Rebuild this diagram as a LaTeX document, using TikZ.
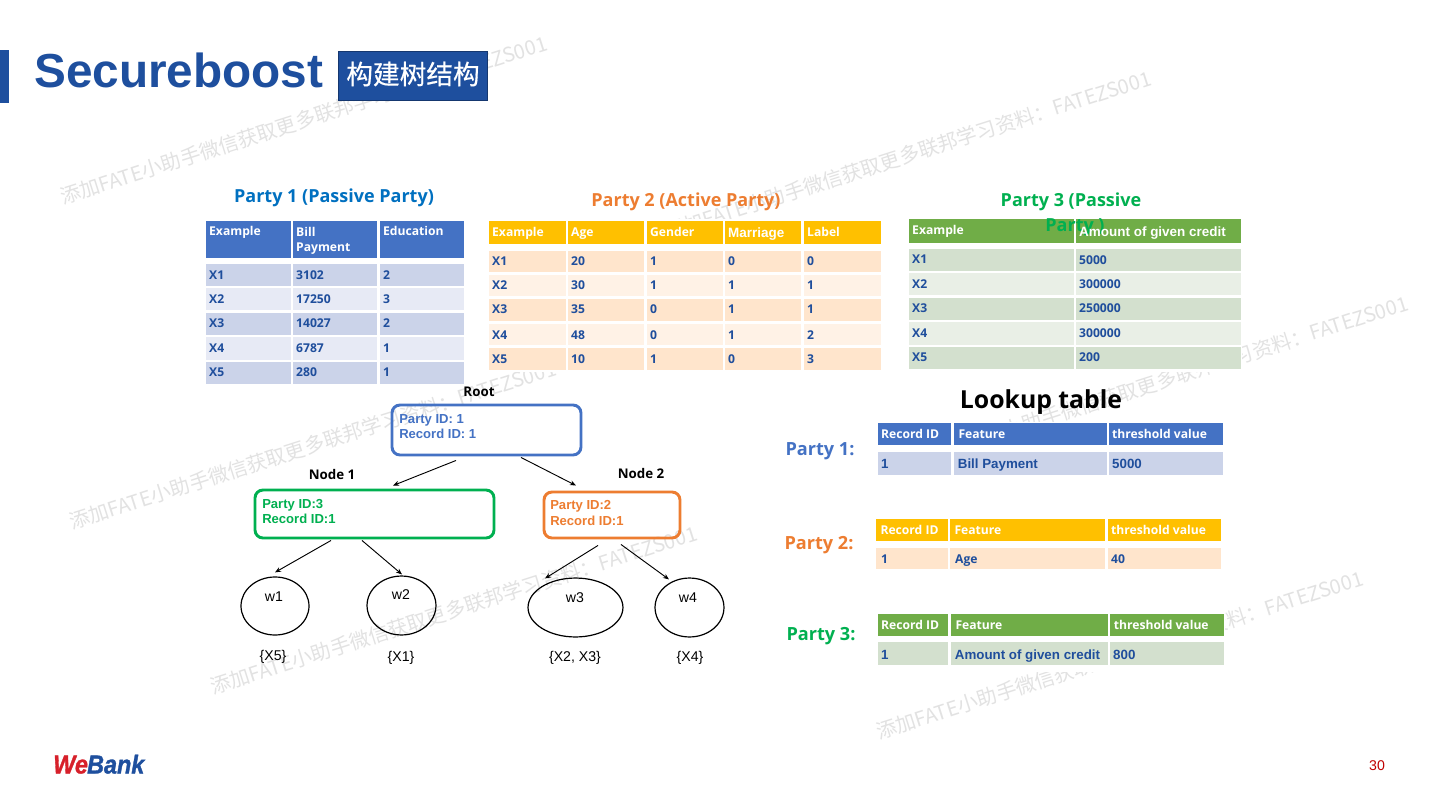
\documentclass[tikz,border=0pt]{standalone}
\usepackage{fontspec}
\usetikzlibrary{arrows.meta,fit,shapes.geometric}
\setmainfont{Liberation Sans}
\newfontfamily\tah{Open Sans}
\newfontfamily\cjk{Noto Sans CJK SC}
\newfontfamily\cjkm[FakeBold=0.5]{Noto Sans CJK SC}
\newfontfamily\logof[BoldItalicFeatures={FakeBold=1.2,FakeStretch=0.9}]{Liberation Sans}
\definecolor{titleblue}{HTML}{1E4F9E}
\definecolor{cellblue}{HTML}{1F4E9C}
\definecolor{pblue}{HTML}{4472C4}
\definecolor{porange}{HTML}{ED7D31}
\definecolor{pgreen}{HTML}{00B050}
\definecolor{psky}{HTML}{0070C0}
\definecolor{hyellow}{HTML}{FFC000}
\definecolor{hgreen}{HTML}{70AD47}
\definecolor{bA}{HTML}{CBD3E9}
\definecolor{bB}{HTML}{E7EAF5}
\definecolor{oA}{HTML}{FFE5CC}
\definecolor{oB}{HTML}{FFF2E6}
\definecolor{gA}{HTML}{D3E0CE}
\definecolor{gB}{HTML}{E9EFE6}
\definecolor{wm}{HTML}{E2E2E2}
\tikzset{
  x=0.75pt,y=-0.75pt,
  cellbox/.style={inner sep=0pt,outer sep=0pt,draw=none},
  tx/.style={inner sep=0pt,outer sep=0pt,anchor=base west,xshift=2.4pt,yshift=-3.9pt},
  hd/.style={tx,text=white,font=\tah\bfseries\fontsize{9.1}{11}\selectfont},
  bd/.style={tx,text=cellblue,font=\tah\bfseries\fontsize{9.1}{11}\selectfont},
  hda/.style={tx,text=white,font=\bfseries\fontsize{10.1}{11}\selectfont},
  bda/.style={tx,text=cellblue,font=\bfseries\fontsize{10}{11}\selectfont},
  backing/.style={fill=white,draw=none},
  wmark/.style={inner sep=0pt,anchor=base west,rotate=17.7,text=wm,font=\cjk\fontsize{15.1}{16}\selectfont},
  ptitle/.style={inner sep=0pt,font=\tah\bfseries\fontsize{13.5}{15}\selectfont},
  plabel/.style={inner sep=0pt,font=\tah\bfseries\fontsize{13.6}{15}\selectfont},
  treebox/.style={rounded corners=6pt,line width=2.2pt,inner sep=0pt,fill=none},
  boxtxt/.style={inner sep=0pt,anchor=base west,font=\bfseries\fontsize{9.8}{11}\selectfont},
  tlabel/.style={inner sep=0pt,text=black,font=\tah\fontsize{10}{12}\selectfont\bfseries},
  leaf/.style={draw=black,line width=0.9pt,ellipse,inner sep=0pt,fill=none},
  leaftxt/.style={inner sep=0pt,text=black,font=\fontsize{10.6}{12}\selectfont},
  arr/.style={draw=black,line width=0.7pt,-{Stealth[length=4.5pt,width=3.6pt]}},
}
% name, x1, y1, x2, y2, fill, text style, text centre y, text
\newcommand\cell[9]{%
  \node[cellbox,fill=#6,fit={(#2,#3)(#4,#5)}] (#1) {};
  \node[#7] (#1t) at (#2,#8) {#9};
}
\begin{document}
\begin{tikzpicture}
\useasboundingbox (0,0) rectangle (1440,810);
\fill[white] (0,0) rectangle (1440,810);
% watermarks
\node[wmark] (wm1) at (63,205) {添加FATE小助手微信获取更多联邦学习资料：FATEZS001};
\node[wmark] (wm2) at (667,240) {添加FATE小助手微信获取更多联邦学习资料：FATEZS001};
\node[wmark] (wm3) at (924,465) {添加FATE小助手微信获取更多联邦学习资料：FATEZS001};
\node[wmark] (wm4) at (72,530) {添加FATE小助手微信获取更多联邦学习资料：FATEZS001};
\node[wmark] (wm5) at (213,695) {添加FATE小助手微信获取更多联邦学习资料：FATEZS001};
\node[wmark] (wm6) at (879,740) {添加FATE小助手微信获取更多联邦学习资料：FATEZS001};
% white backs of the pasted tables
\fill[backing] (205,219) rectangle (465,386);
\fill[backing] (488,219) rectangle (882,372);
\fill[backing] (908,218) rectangle (1242,372);
\fill[backing] (876,422) rectangle (1225,672);
% header
\fill[titleblue] (0,50) rectangle (9,103);
\node[inner sep=0pt,anchor=base west,text=titleblue,font=\bfseries\fontsize{35.8}{40}\selectfont] (title) at (34,87) {Secureboost};
\node[cellbox,fill=titleblue,draw=titleblue!70!black,line width=0.6pt,fit={(338.5,51.5)(487.5,100.5)}] (badge) {};
\node[inner sep=0pt,text=white,font=\cjkm\fontsize{20}{22}\selectfont] (badget) at (413,74) {构建树结构};
% table 1
\node[ptitle,text=psky] (p1) at (334,198) {Party 1 (Passive Party)};
\cell{aa}{206}{221}{291}{258}{pblue}{hd}{230}{Example}
\cell{ab}{293}{221}{377}{258}{pblue}{hd}{231}{Bill}
\node[hd] (abx) at (293,246) {Payment};
\cell{ac}{380}{221}{464}{258}{pblue}{hd}{230}{Education}
\cell{a1a}{206}{264}{291}{286}{bA}{bd}{274}{X1}
\cell{a1b}{293}{264}{377}{286}{bA}{bd}{274}{3102}
\cell{a1c}{380}{264}{464}{286}{bA}{bd}{274}{2}
\cell{a2a}{206}{288}{291}{310}{bB}{bd}{298}{X2}
\cell{a2b}{293}{288}{377}{310}{bB}{bd}{298}{17250}
\cell{a2c}{380}{288}{464}{310}{bB}{bd}{298}{3}
\cell{a3a}{206}{313}{291}{335}{bA}{bd}{322}{X3}
\cell{a3b}{293}{313}{377}{335}{bA}{bd}{322}{14027}
\cell{a3c}{380}{313}{464}{335}{bA}{bd}{322}{2}
\cell{a4a}{206}{337}{291}{360}{bB}{bd}{347}{X4}
\cell{a4b}{293}{337}{377}{360}{bB}{bd}{347}{6787}
\cell{a4c}{380}{337}{464}{360}{bB}{bd}{347}{1}
\cell{a5a}{206}{362}{291}{384}{bA}{bd}{371}{X5}
\cell{a5b}{293}{362}{377}{384}{bA}{bd}{371}{280}
\cell{a5c}{380}{362}{464}{384}{bA}{bd}{371}{1}
% table 2
\node[ptitle,text=porange] (p2) at (686,202) {Party 2 (Active Party)};
\cell{ba}{489}{221}{566}{244}{hyellow}{hd}{231}{Example}
\cell{bb}{568}{221}{644}{244}{hyellow}{hd}{231}{Age}
\cell{bc}{647}{221}{723}{244}{hyellow}{hd}{231}{Gender}
\cell{bd}{725}{221}{801}{244}{hyellow}{hda}{232}{Marriage}
\cell{be}{804}{221}{881}{244}{hyellow}{hd}{231}{Label}
\cell{b1a}{489}{251}{566}{272}{oA}{bd}{260}{X1}
\cell{b1b}{568}{251}{644}{272}{oA}{bd}{260}{20}
\cell{b1c}{647}{251}{723}{272}{oA}{bd}{260}{1}
\cell{b1d}{725}{251}{801}{272}{oA}{bd}{260}{0}
\cell{b1e}{804}{251}{881}{272}{oA}{bd}{260}{0}
\cell{b2a}{489}{275}{566}{296}{oB}{bd}{284}{X2}
\cell{b2b}{568}{275}{644}{296}{oB}{bd}{284}{30}
\cell{b2c}{647}{275}{723}{296}{oB}{bd}{284}{1}
\cell{b2d}{725}{275}{801}{296}{oB}{bd}{284}{1}
\cell{b2e}{804}{275}{881}{296}{oB}{bd}{284}{1}
\cell{b3a}{489}{299}{566}{321}{oA}{bd}{308}{X3}
\cell{b3b}{568}{299}{644}{321}{oA}{bd}{308}{35}
\cell{b3c}{647}{299}{723}{321}{oA}{bd}{308}{0}
\cell{b3d}{725}{299}{801}{321}{oA}{bd}{308}{1}
\cell{b3e}{804}{299}{881}{321}{oA}{bd}{308}{1}
\cell{b4a}{489}{324}{566}{345}{oB}{bd}{334}{X4}
\cell{b4b}{568}{324}{644}{345}{oB}{bd}{334}{48}
\cell{b4c}{647}{324}{723}{345}{oB}{bd}{334}{0}
\cell{b4d}{725}{324}{801}{345}{oB}{bd}{334}{1}
\cell{b4e}{804}{324}{881}{345}{oB}{bd}{334}{2}
\cell{b5a}{489}{348}{566}{370}{oA}{bd}{358}{X5}
\cell{b5b}{568}{348}{644}{370}{oA}{bd}{358}{10}
\cell{b5c}{647}{348}{723}{370}{oA}{bd}{358}{1}
\cell{b5d}{725}{348}{801}{370}{oA}{bd}{358}{0}
\cell{b5e}{804}{348}{881}{370}{oA}{bd}{358}{3}
% table 3
\cell{ca}{909}{219}{1074}{243}{hgreen}{hd}{229}{Example}
\cell{cb}{1076}{219}{1241}{243}{hgreen}{hda}{231}{}
\node[ptitle,text=pgreen] (p3) at (1071,202) {Party 3 (Passive};
\node[ptitle,text=pgreen] (p3b) at (1075,227) {Party )};
\node[hda] (cbx) at (1076,231) {Amount of given credit};
\cell{c1a}{909}{249}{1074}{271}{gA}{bd}{258}{X1}
\cell{c1b}{1076}{249}{1241}{271}{gA}{bd}{259}{5000}
\cell{c2a}{909}{273}{1074}{295}{gB}{bd}{283}{X2}
\cell{c2b}{1076}{273}{1241}{295}{gB}{bd}{283}{300000}
\cell{c3a}{909}{298}{1074}{320}{gA}{bd}{307}{X3}
\cell{c3b}{1076}{298}{1241}{320}{gA}{bd}{307}{250000}
\cell{c4a}{909}{322}{1074}{345}{gB}{bd}{332}{X4}
\cell{c4b}{1076}{322}{1241}{345}{gB}{bd}{332}{300000}
\cell{c5a}{909}{347}{1074}{369}{gA}{bd}{356}{X5}
\cell{c5b}{1076}{347}{1241}{369}{gA}{bd}{356}{200}
% tree
\node[tlabel] (rootl) at (479,392) {Root};
\node[tlabel] (n1l) at (332,474) {Node 1};
\node[tlabel] (n2l) at (641,473) {Node 2};
\node[treebox,draw=pblue,fit={(392,405)(581,455)}] (root) {};
\node[treebox,draw=pgreen,fit={(255,490)(494,538)}] (n1) {};
\node[treebox,draw=porange,fit={(544,492)(680,538)}] (n2) {};
\node[boxtxt,text=pblue] (r1) at (399,423) {Party ID: 1};
\node[boxtxt,text=pblue] (r2) at (399,438) {Record ID: 1};
\node[boxtxt,text=pgreen] (g1) at (262,508) {Party ID:3};
\node[boxtxt,text=pgreen] (g2) at (262,523) {Record ID:1};
\node[boxtxt,text=porange] (o1) at (550,509) {Party ID:2};
\node[boxtxt,text=porange] (o2) at (550,525) {Record ID:1};
\node[leaf,minimum width=51pt,minimum height=43.5pt] (w1) at (275,606) {};
\node[leaf,minimum width=51.7pt,minimum height=44.2pt] (w2) at (401.5,605.5) {};
\node[leaf,minimum width=71.2pt,minimum height=44.2pt] (w3) at (575.5,607.5) {};
\node[leaf,minimum width=51.7pt,minimum height=44.2pt] (w4) at (689.5,607.5) {};
\node[leaftxt] (w1t) at (274,597) {w1};
\node[leaftxt] (w2t) at (401,595) {w2};
\node[leaftxt] (w3t) at (575,598) {w3};
\node[leaftxt] (w4t) at (688,598) {w4};
\node[leaftxt] (s1) at (273,657) {\{X5\}};
\node[leaftxt] (s2) at (401,658) {\{X1\}};
\node[leaftxt] (s3) at (575,658) {\{X2, X3\}};
\node[leaftxt] (s4) at (690,658) {\{X4\}};
\draw[arr] ([shift={(-30.5,4)}]root.south) -- ([shift={(18.5,-3)}]n1.north);
\draw[arr] ([shift={(34.5,1)}]root.south) -- ([shift={(-36,-5)}]n2.north);
\draw[arr] ([shift={(-43.5,1)}]n1.south) -- ([shift={(0,-4)}]w1.north);
\draw[arr] ([shift={(-12.5,1)}]n1.south) -- ([shift={(0.5,-1)}]w2.north);
\draw[arr] ([shift={(-14,6)}]n2.south) -- ([shift={(-30.5,1)}]w3.north);
\draw[arr] ([shift={(9,5)}]n2.south) -- ([shift={(-20.5,2)}]w4.north);
% lookup
\node[inner sep=0pt,text=black,font=\tah\bfseries\fontsize{18.6}{22}\selectfont] (lk) at (1041,402) {Lookup table};
\node[plabel,text=pblue] (l1) at (820,451) {Party 1:};
\node[plabel,text=porange] (l2) at (819,545) {Party 2:};
\node[plabel,text=pgreen] (l3) at (821,636) {Party 3:};
\cell{da}{878}{423}{951}{445}{pblue}{hd}{433}{Record ID}
\cell{db}{954}{423}{1107}{445}{pblue}{hd}{433}{\hspace{1pt}Feature}
\cell{dc}{1109}{423}{1223}{445}{pblue}{hd}{433}{threshold value}
\cell{d1}{878}{452}{951}{475}{bA}{bda}{463}{1}
\cell{d2}{954}{452}{1107}{475}{bA}{bda}{463}{\hspace{0.5pt}Bill Payment}
\cell{d3}{1109}{452}{1223}{475}{bA}{bda}{463}{5000}
\cell{ea}{876}{519}{948}{541}{hyellow}{hd}{529}{\hspace{1pt}Record ID}
\cell{eb}{950}{519}{1105}{541}{hyellow}{hd}{529}{\hspace{1pt}Feature}
\cell{ec}{1108}{519}{1221}{541}{hyellow}{hd}{529}{threshold value}
\cell{e1}{876}{548}{948}{569}{oA}{bd}{558}{\hspace{1.5pt}1}
\cell{e2}{950}{548}{1105}{569}{oA}{bd}{558}{\hspace{1.5pt}Age}
\cell{e3}{1108}{548}{1221}{569}{oA}{bd}{558}{40}
\cell{fa}{878}{614}{948}{636}{hgreen}{hd}{624}{Record ID}
\cell{fb}{951}{614}{1108}{636}{hgreen}{hd}{624}{\hspace{1pt}Feature}
\cell{fc}{1110}{614}{1224}{636}{hgreen}{hd}{624}{\hspace{0.5pt}threshold value}
\cell{f1}{878}{642}{948}{665}{gA}{bda}{654}{1}
\cell{f2}{951}{642}{1108}{665}{gA}{bda}{654}{\hspace{0.5pt}Amount of given credit}
\cell{f3}{1110}{642}{1224}{665}{gA}{bda}{654}{800}
% footer
\node[inner sep=0pt,anchor=base west,font=\logof\bfseries\itshape\fontsize{19.5}{21}\selectfont] (logo) at (53,773.5) {\textcolor[HTML]{D7202A}{We}\kern-0.6pt\textcolor[HTML]{1E4F9E}{Bank}};
\node[inner sep=0pt,text={rgb,255:red,192;green,0;blue,0},font=\fontsize{10.6}{12}\selectfont] (pg) at (1377,766) {30};
\end{tikzpicture}
\end{document}
